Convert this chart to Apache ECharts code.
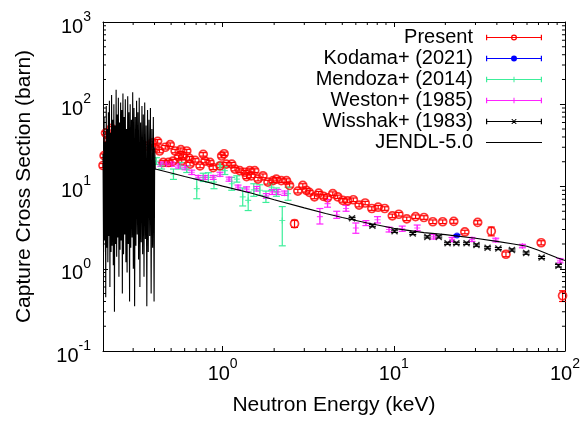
<!DOCTYPE html>
<html><head><meta charset="utf-8">
<script src="https://cdn.jsdelivr.net/npm/echarts@6/dist/echarts.min.js"></script>
<style>html,body{margin:0;padding:0;background:#fff}#c{width:583px;height:421px}</style>
</head><body><div id="c"></div>
<script>
// ---------- data ----------
const presentE  = [0.200,0.203,0.207,0.215,0.224,0.237,0.253,0.274,0.301,0.330,0.363,0.388,
  0.404,0.417,0.428,0.450,0.462,0.483,0.494,0.513,0.528,0.552,0.570,0.577,0.590,0.617,0.640,0.645,0.690,0.738,
  0.770,0.789,0.844,0.880,0.965,0.987,1.02,1.05,1.13,1.18,1.26,1.35,1.38,1.44,1.47,1.54,1.61,1.72,1.84,1.97,
  2.06,2.20,2.36,2.46,2.63,2.75,2.94,3.08,3.21,3.44,3.64,3.88,4.10,4.40,4.70,5.03,5.37,5.80,6.27,6.80,
  7.44,8.10,8.85,9.80,10.7,11.9,13.4,15.0,16.9,19.3,22.4,26.0,30.9,37.1,45.2,72.6,96.8];
const presentXS = [18,23.7,44.6,36.7,51,47,41,39,34,29.5,31,34,
  29.5,35.4,27,19.6,30,19.6,32.3,20.4,27,22.9,28,20.4,23.5,27,22,18.7,20.8,17.8,
  24.6,20.4,19.6,17,17.8,23.5,25,18.7,18.7,16.3,15.6,14.9,13.2,15.6,13.5,15.6,12.3,13.5,11.3,11.8,
  12.3,11.8,11.8,10.3,3.53,8.8,10.3,9.0,8.5,7.5,8.3,7.6,7.3,8.2,7.5,6.8,6.7,6.9,5.95,6.3,
  5.4,5.6,5.4,4.4,4.6,4.05,4.3,4.2,3.73,3.73,3.76,2.8,3.66,2.86,1.5,2.07,0.47];
const presentErr = [1,1.2,2,1.8,2.5,2.3,2,2,1.7,1.5,1.5,1.7,
  1.5,1.8,1.3,1,1.5,1,1.6,1,1.3,1.1,1.4,1,1.2,1.3,1.1,0.9,1,0.9,
  1.2,1,1,0.9,0.9,1.2,1.2,0.9,0.9,0.8,0.8,0.7,0.7,0.8,0.7,0.8,0.6,0.7,0.6,0.6,
  0.6,0.6,0.6,0.5,0.35,0.45,0.5,0.45,0.4,0.4,0.4,0.4,0.35,0.4,0.35,0.35,0.35,0.35,0.3,0.3,
  0.27,0.28,0.27,0.22,0.23,0.2,0.21,0.21,0.19,0.19,0.19,0.14,0.18,0.35,0.1,0.12,0.07];

const kodamaE = [23.4], kodamaXS = [2.54], kodamaErr = [0.06];

const mendozaE  = [0.41,0.44,0.516,0.565,0.617,0.706,0.77,0.825,0.89,0.965,1.03,1.13,1.21,1.31,1.41,1.52,1.65,1.79,1.93,2.06,2.23,2.41];
const mendozaXS = [20.4,17.8,14.1,17.8,16.3,9.4,12.9,12.9,11.3,17.8,15.6,10.8,12.3,7.5,6.8,9.1,9.0,7.5,9.8,8.6,3.86,8.2];
const mendozaLo = [18.6,16.3,12.2,16.3,14.8,7.1,11.5,11.3,9.4,16.0,14.0,9.0,11.3,5.8,5.1,7.6,7.8,6.4,8.9,7.6,1.9,6.8];
const mendozaHi = [22.4,19.4,16.3,19.6,17.9,12.4,14.5,14.7,13.6,19.6,17.4,12.9,13.5,9.6,8.6,10.8,10.5,8.8,10.8,9.6,5.7,9.8];

const westonE  = [0.436,0.47,0.505,0.552,0.604,0.66,0.72,0.79,0.88,0.965,1.09,1.23,1.38,1.58,1.80,1.95,2.10,2.30,
  3.70,4.10,4.64,5.26,6.0,6.87,8.03,9.38,11.2,13.7,17.1,21.9,28.6,39.4,56.4,93.5];
const westonXS = [18.7,18.7,18.7,17.8,17.0,14.9,12.9,12.9,12.9,14.1,12.3,9.8,9.3,9.4,7.7,8.6,8.6,8.3,
  4.3,6.2,4.5,5.4,3.13,3.59,3.94,3.0,3.05,3.13,2.44,2.27,2.27,2.23,1.89,1.25];
const westonLo = [17.6,17.6,17.6,16.8,16.0,14.0,12.2,12.2,12.2,13.3,11.6,9.2,8.7,8.8,7.2,8.0,8.0,7.8,
  3.5,5.6,4.1,5.0,2.7,3.35,3.6,2.8,2.85,2.9,2.3,2.15,2.15,2.12,1.8,1.18];
const westonHi = [19.8,19.8,19.8,18.8,18.0,15.8,13.6,13.6,13.6,14.9,13.0,10.4,9.9,10.0,8.2,9.2,9.2,8.8,
  5.4,6.9,5.0,5.9,3.6,3.85,4.3,3.2,3.3,3.4,2.6,2.4,2.4,2.35,1.98,1.33];

const wisshakE  = [5.7,7.5,10.1,12.9,15.7,18.3,20.6,23.2,26.6,30.4,35.3,40.8,49.0,59.3,73.0,91.6];
const wisshakXS = [4.1,3.34,2.86,2.68,2.44,2.44,2.04,2.04,2.04,1.94,1.80,1.76,1.69,1.55,1.37,1.09];
const wisshakErr = [0.12,0.1,0.09,0.08,0.07,0.07,0.06,0.06,0.06,0.06,0.05,0.05,0.05,0.05,0.04,0.04];

const jendlE = [0.200,0.2015,0.203,0.2045,0.206,0.2075,0.209,0.2105,0.212,0.2135,0.215,0.2165,0.218,0.2195,0.221,0.2228,
  0.2245,0.226,0.228,0.2298,0.2315,0.2333,0.235,0.2368,0.2386,0.2404,0.2422,0.244,0.2459,0.2478,0.2497,0.2516,
  0.2535,0.2555,0.2575,0.2595,0.2615,0.2636,0.2657,0.2678,0.27,0.2722,0.2744,0.2766,0.2789,0.2812,0.2835,0.2859,
  0.2883,0.2907,0.2932,0.2957,0.2982,0.3008,0.3034,0.306,0.3087,0.3114,0.3142,0.317,0.3198,0.3227,0.3256,0.3286,
  0.3316,0.3346,0.3377,0.3408,0.344,0.3472,0.3505,0.3538,0.3572,0.3606,0.3641,0.3676,0.3712,0.3748,0.3785,0.3822,
  0.386,0.3898,0.3937,0.3976,0.401,
  0.404,0.5,0.6,0.8,1.0,1.5,2.0,3.0,4.0,5.0,7.0,10,15,20,30,40,50,60,70,80,90,100];
const jendlXS = [25,1.6,70,2.2,35,0.45,95,1.8,50,1.2,80,2.5,110,0.6,45,1.6,
  130,1.9,65,1.1,100,0.3,55,2.0,150,1.4,75,2.4,120,0.8,60,1.7,
  105,2.2,85,0.5,135,1.5,70,2.6,115,1.2,50,0.9,125,2.0,80,0.4,
  100,1.8,65,2.4,140,1.0,90,0.35,70,1.9,110,2.6,80,1.3,120,0.6,
  60,2.1,95,1.5,75,0.8,105,2.3,55,0.35,85,1.6,65,2.5,90,0.5,
  50,1.8,70,0.4,30,
  16.3,14.6,13.2,11.4,10.1,8.2,6.9,5.5,4.7,4.2,3.6,3.1,2.75,2.6,2.35,2.15,2.0,1.88,1.68,1.5,1.36,1.26];

const xMajorTicks = [1, 10, 100];
const yMajorTicks = [0.1, 1, 10, 100, 1000];
const xMinorTicks = [0.3,0.4,0.5,0.6,0.7,0.8,0.9,2,3,4,5,6,7,8,9,20,30,40,50,60,70,80,90];
const yMinorTicks = [0.2,0.3,0.4,0.5,0.6,0.7,0.8,0.9,2,3,4,5,6,7,8,9,20,30,40,50,60,70,80,90,200,300,400,500,600,700,800,900];
const legendNames = ['Present','Kodama+ (2021)','Mendoza+ (2014)','Weston+ (1985)','Wisshak+ (1983)','JENDL-5.0'];
const xTitle = 'Neutron Energy (keV)';
const yTitle = 'Capture Cross Section (barn)';

// ---------- styling ----------
const FONT = '"Liberation Sans", Arial, Helvetica, sans-serif';
const X_MIN = 0.2, X_MAX = 100, Y_MIN = 0.1, Y_MAX = 1000;
const C_RED = '#ff0000', C_BLUE = '#0000ff', C_GREEN = '#3cee9a', C_MAG = '#ff22ff', C_BLK = '#000000';

function expLabel(v) {
  const l = Math.log10(v), e = Math.round(l);
  if (Math.abs(l - e) > 1e-6) return '';
  return '{b|10}{s|' + e + '}';
}
const richLbl = {
  b: {fontFamily: FONT, fontSize: 20, color: '#000', lineHeight: 34},
  s: {fontFamily: FONT, fontSize: 14, color: '#000', lineHeight: 14, verticalAlign: 'top'}
};

function zip2(a, b) { return a.map((v, i) => [v, b[i]]); }
function errData(E, XS, lo, hi) { return E.map((v, i) => [v, XS[i], lo[i], hi[i]]); }
function symErr(E, XS, err) { return E.map((v, i) => [v, XS[i], XS[i] - err[i], XS[i] + err[i]]); }

function errRender(color, cap) {
  return function (params, api) {
    const x = api.value(0), lo = api.value(2), hi = api.value(3);
    const a = api.coord([x, lo]), b = api.coord([x, hi]);
    const st = {stroke: color, lineWidth: 1.2};
    return {type: 'group', children: [
      {type: 'line', shape: {x1: a[0], y1: a[1], x2: b[0], y2: b[1]}, style: st},
      {type: 'line', shape: {x1: a[0] - cap, y1: a[1], x2: a[0] + cap, y2: a[1]}, style: st},
      {type: 'line', shape: {x1: b[0] - cap, y1: b[1], x2: b[0] + cap, y2: b[1]}, style: st}
    ]};
  };
}
function errSeries(name, color, data) {
  return {name, type: 'custom', coordinateSystem: 'cartesian2d', silent: true, animation: false,
    encode: {x: 0, y: 1}, data, renderItem: errRender(color, 3.5)};
}
function scatSeries(name, data, symbol, size, style) {
  return {name, type: 'scatter', data, symbol, symbolSize: size, silent: true, animation: false,
    itemStyle: style, emphasis: {disabled: true}};
}
const xMinorRender = function (params, api) {
  const v = api.value(0);
  const b = api.coord([v, Y_MIN]), t = api.coord([v, Y_MAX]);
  const st = {stroke: '#000', lineWidth: 1};
  return {type: 'group', children: [
    {type: 'line', shape: {x1: b[0], y1: b[1], x2: b[0], y2: b[1] - 3}, style: st},
    {type: 'line', shape: {x1: t[0], y1: t[1], x2: t[0], y2: t[1] + 3}, style: st}
  ]};
};
const yMinorRender = function (params, api) {
  const v = api.value(1);
  const l = api.coord([X_MIN, v]), r = api.coord([X_MAX, v]);
  const st = {stroke: '#000', lineWidth: 1};
  return {type: 'group', children: [
    {type: 'line', shape: {x1: l[0], y1: l[1], x2: l[0] + 3, y2: l[1]}, style: st},
    {type: 'line', shape: {x1: r[0], y1: r[1], x2: r[0] - 3, y2: r[1]}, style: st}
  ]};
};

function iconPath(marker) {
  let p = 'path://M0 0L0 0M640 80L640 80M80 35H640V45H80Z';
  if (marker !== 'none') p += 'M80 12H92V68H80ZM628 12H640V68H628Z';
  if (marker === 'ring') p += 'M390 40A30 30 0 1 1 330 40A30 30 0 1 1 390 40ZM378 40A18 18 0 1 0 342 40A18 18 0 1 0 378 40Z';
  if (marker === 'dot') p += 'M390 40A30 30 0 1 1 330 40A30 30 0 1 1 390 40Z';
  if (marker === 'plus') p += 'M355 12H365V68H355Z';
  if (marker === 'cross') p += 'M332 16L344 16L388 64L376 64ZM376 16L388 16L344 64L332 64Z';
  return p;
}
const legendIcons = ['ring', 'dot', 'plus', 'plus', 'cross', 'none'];
const legendColors = [C_RED, C_BLUE, C_GREEN, C_MAG, C_BLK, C_BLK];

const axisCommon = {
  axisLine: {show: true, onZero: false, lineStyle: {color: '#000', width: 1}},
  axisTick: {show: true, inside: true, length: 5, lineStyle: {color: '#000', width: 1}},
  splitLine: {show: false}, minorTick: {show: false}
};

const chart = echarts.init(document.getElementById('c'), null, {renderer: 'canvas'});
chart.setOption({
  animation: false,
  backgroundColor: '#fff',
  grid: {left: 103, right: 16, top: 22, bottom: 64, containLabel: false},
  xAxis: [
    Object.assign({type: 'log', logBase: 10, min: X_MIN, max: X_MAX, position: 'bottom',
      name: xTitle, nameLocation: 'middle', nameGap: 44,
      nameTextStyle: {fontFamily: FONT, fontSize: 21, color: '#000'},
      axisLabel: {show: true, margin: 6, formatter: expLabel, rich: richLbl, hideOverlap: false}}, axisCommon),
    Object.assign({type: 'log', logBase: 10, min: X_MIN, max: X_MAX, position: 'top',
      axisLabel: {show: false}}, axisCommon)
  ],
  yAxis: [
    Object.assign({type: 'log', logBase: 10, min: Y_MIN, max: Y_MAX, position: 'left',
      name: yTitle, nameLocation: 'middle', nameGap: 68,
      nameTextStyle: {fontFamily: FONT, fontSize: 21, color: '#000'},
      axisLabel: {show: true, margin: 12, formatter: expLabel, rich: richLbl, padding: [10, 0, 0, 0]}}, axisCommon),
    Object.assign({type: 'log', logBase: 10, min: Y_MIN, max: Y_MAX, position: 'right',
      axisLabel: {show: false}}, axisCommon)
  ],
  legend: {
    orient: 'vertical', right: 41, top: 27, align: 'right', padding: 0, itemGap: 0,
    itemWidth: 64, itemHeight: 8, selectedMode: false, symbolKeepAspect: true,
    textStyle: {fontFamily: FONT, fontSize: 20, color: '#000', lineHeight: 21},
    data: legendNames.map((n, i) => ({name: n, icon: iconPath(legendIcons[i]),
      itemStyle: {color: legendColors[i], borderWidth: 0, opacity: 1}}))
  },
  series: [
    errSeries(legendNames[0], C_RED, symErr(presentE, presentXS, presentErr)),
    scatSeries(legendNames[0], zip2(presentE, presentXS), 'circle', 8,
      {color: 'rgba(0,0,0,0)', borderColor: C_RED, borderWidth: 1.7}),
    errSeries(legendNames[1], C_BLUE, symErr(kodamaE, kodamaXS, kodamaErr)),
    scatSeries(legendNames[1], zip2(kodamaE, kodamaXS), 'circle', 6, {color: C_BLUE}),
    errSeries(legendNames[2], C_GREEN, errData(mendozaE, mendozaXS, mendozaLo, mendozaHi)),
    scatSeries(legendNames[2], zip2(mendozaE, mendozaXS), 'path://M4 0H6V10H4ZM0 4H10V6H0Z', 6, {color: C_GREEN}),
    errSeries(legendNames[3], C_MAG, errData(westonE, westonXS, westonLo, westonHi)),
    scatSeries(legendNames[3], zip2(westonE, westonXS), 'path://M4 0H6V10H4ZM0 4H10V6H0Z', 6, {color: C_MAG}),
    errSeries(legendNames[4], C_BLK, symErr(wisshakE, wisshakXS, wisshakErr)),
    scatSeries(legendNames[4], zip2(wisshakE, wisshakXS), 'path://M0 1.4L1.4 0L10 8.6L8.6 10ZM8.6 0L10 1.4L1.4 10L0 8.6Z', 7, {color: C_BLK}),
    {name: legendNames[5], type: 'line', data: zip2(jendlE, jendlXS), symbol: 'none', showSymbol: false,
      silent: true, animation: false, lineStyle: {color: C_BLK, width: 1.1}, itemStyle: {color: C_BLK},
      emphasis: {disabled: true}},
    {name: 'xminor', type: 'custom', coordinateSystem: 'cartesian2d', silent: true,
      data: xMinorTicks.map(v => [v, 1]), renderItem: xMinorRender},
    {name: 'yminor', type: 'custom', coordinateSystem: 'cartesian2d', silent: true,
      data: yMinorTicks.map(v => [1, v]), renderItem: yMinorRender}
  ]
});
</script></body></html>
